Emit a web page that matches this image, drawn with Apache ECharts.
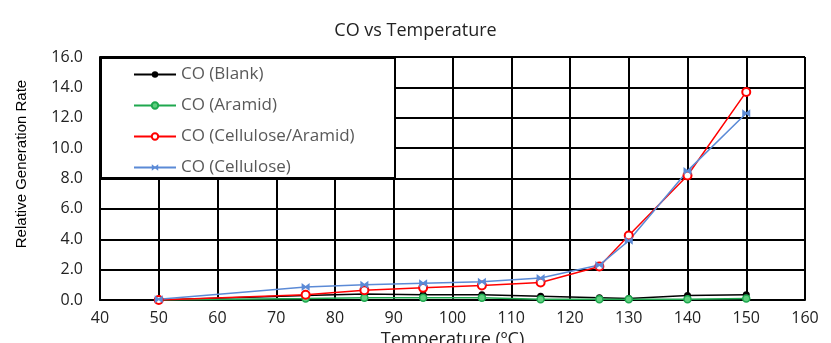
<!DOCTYPE html>
<html>
<head>
<meta charset="utf-8">
<script src="https://cdn.jsdelivr.net/npm/echarts@6/dist/echarts.min.js"></script>
<style>
html,body{margin:0;padding:0;background:#fff;}
#chart{width:831px;height:343px;}
</style>
</head>
<body>
<div id="chart"></div>
<script>
var temps = [50, 75, 85, 95, 105, 115, 125, 130, 140, 150];
var coBlank = [0, 0.3, 0.4, 0.35, 0.35, 0.25, 0.15, 0.1, 0.3, 0.35];
var coAramid = [0, 0.1, 0.15, 0.15, 0.15, 0.05, 0.05, 0.05, 0.05, 0.1];
var coCellAramid = [0, 0.35, 0.65, 0.8, 0.95, 1.15, 2.2, 4.25, 8.2, 13.7];
var coCellulose = [0.05, 0.85, 1.0, 1.1, 1.2, 1.45, 2.3, 3.9, 8.5, 12.3];
var seriesNames = ['CO (Blank)', 'CO (Aramid)', 'CO (Cellulose/Aramid)', 'CO (Cellulose)'];

function pairs(ys){
	var arr = [];
	for(var i=0;i<temps.length;i++){
		arr.push([temps[i], ys[i]]);
	}
	return arr;
}

var myChart = echarts.init(document.getElementById('chart'));
var font = 'Open Sans';
var option = {
	backgroundColor: '#fff',
	animation: false,
	title: {
		text: 'CO vs Temperature',
		left: 'center',
		top: 17,
		textStyle: {fontFamily: font, fontSize: 18, fontWeight: 'normal', color: '#222'}
	},
	graphic: [
		// legend box
		{
			type: 'rect',
			z: 3,
			shape: {x: 101, y: 58, width: 294, height: 120},
			style: {fill: '#fff', stroke: '#000', lineWidth: 2}
		},
		// y axis title
		{
			type: 'text',
			x: 22,
			y: 164,
			rotation: Math.PI / 2,
			style: {
				text: 'Relative Generation Rate',
				fontFamily: 'Liberation Sans',
				fontSize: 15,
				fill: '#000',
				align: 'center',
				verticalAlign: 'middle'
			}
		}
	],
	legend: {
		orient: 'vertical',
		left: 100,
		top: 57,
		z: 5,
		itemWidth: 42,
		itemHeight: 8,
		itemGap: 14,
		padding: [9, 0, 0, 33],
		textStyle: {fontFamily: font, fontSize: 17, color: '#595959', lineHeight: 16},
		data: seriesNames
	},
	grid: {
		left: 100,
		right: 26,
		top: 57,
		bottom: 43,
		outerBoundsMode: 'none'
	},
	xAxis: {
		type: 'value',
		min: 40,
		max: 160,
		interval: 10,
		name: 'Temperature (ºC)',
		nameLocation: 'middle',
		nameGap: 27,
		nameTextStyle: {fontFamily: font, fontSize: 18, color: '#222'},
		axisLine: {lineStyle: {color: '#000', width: 2}},
		axisTick: {show: false},
		axisLabel: {fontFamily: font, fontSize: 16, color: '#222', margin: 10},
		splitLine: {show: true, lineStyle: {color: '#000', width: 2}}
	},
	yAxis: {
		type: 'value',
		min: 0,
		max: 16,
		interval: 2,
		axisLine: {show: true, lineStyle: {color: '#000', width: 2}},
		axisTick: {show: false},
		axisLabel: {
			fontFamily: font, fontSize: 16, color: '#222', margin: 17,
			formatter: function(v){ return v.toFixed(1); }
		},
		splitLine: {show: true, lineStyle: {color: '#000', width: 2}}
	},
	series: [
		{
			name: seriesNames[0],
			type: 'line',
			data: pairs(coBlank),
			symbol: 'circle',
			symbolSize: 7,
			color: '#000',
			lineStyle: {width: 1.5, color: '#000'},
			itemStyle: {color: '#000'}
		},
		{
			name: seriesNames[1],
			type: 'line',
			data: pairs(coAramid),
			symbol: 'circle',
			symbolSize: 7,
			color: '#1fa84f',
			lineStyle: {width: 1.5, color: '#1fa84f'},
			itemStyle: {color: '#5fd07f', borderColor: '#1fa84f', borderWidth: 1.5}
		},
		{
			name: seriesNames[2],
			type: 'line',
			data: pairs(coCellAramid),
			symbol: 'emptyCircle',
			symbolSize: 8,
			color: '#ff0000',
			lineStyle: {width: 1.5, color: '#ff0000'},
			itemStyle: {color: '#ff0000', borderWidth: 2}
		},
		{
			name: seriesNames[3],
			type: 'line',
			data: pairs(coCellulose),
			symbol: 'path://M0,0L4,3L8,0L8,8L4,5L0,8Z',
			symbolSize: 8,
			color: '#5b8ad6',
			lineStyle: {width: 1.5, color: '#5b8ad6'},
			itemStyle: {color: '#5b8ad6'}
		}
	]
};
myChart.setOption(option);
</script>
</body>
</html>
